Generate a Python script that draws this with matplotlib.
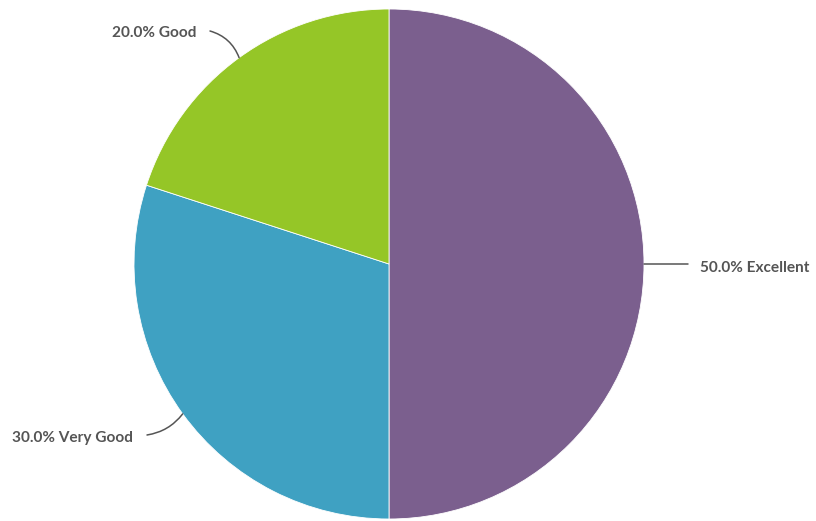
import matplotlib
matplotlib.use("Agg")
import matplotlib.pyplot as plt
import numpy as np

labels = ["Excellent", "Very Good", "Good"]
shares = [50.0, 30.0, 20.0]
colors = ["#7b5f8e", "#3fa1c2", "#95c627"]

plt.rcParams["font.family"] = ["Lato", "DejaVu Sans"]

fig = plt.figure(figsize=(8.16, 5.21), dpi=100)
ax = fig.add_axes([0, 0, 1, 1])

cx, cy, r = 389, 521 - 264, 255
wedges, _ = ax.pie(shares, colors=colors, startangle=90, counterclock=False,
                   center=(cx, cy), radius=r, frame=True,
                   wedgeprops=dict(edgecolor="white", linewidth=0.6))
ax.set_xlim(0, 816)
ax.set_ylim(0, 521)
ax.set_aspect("equal")
ax.axis("off")

# label positions (text anchor) and connector bends per slice
label_pos = [(700, 521 - 268), (133, 521 - 438), (196, 521 - 33)]
line_end = [(688, 521 - 264), (147, 521 - 435), (210, 521 - 31)]
aligns = ["left", "right", "right"]
rads = [0.0, 0.2, -0.25]

for w, lab, val, tp, le, ha, rad in zip(wedges, labels, shares, label_pos, line_end, aligns, rads):
    mid = np.deg2rad((w.theta1 + w.theta2) / 2)
    px, py = cx + r * np.cos(mid), cy + r * np.sin(mid)
    ax.annotate("", xy=(px, py), xytext=le,
                arrowprops=dict(arrowstyle="-", color="#555555", lw=1.1,
                                connectionstyle=f"arc3,rad={rad}", shrinkA=0, shrinkB=0))
    ax.text(tp[0], tp[1], f"{val:.1f}% {lab}", ha=ha, va="center",
            fontsize=11.1, fontweight="bold", color="#555555")

fig.savefig("out.png", dpi=100)
